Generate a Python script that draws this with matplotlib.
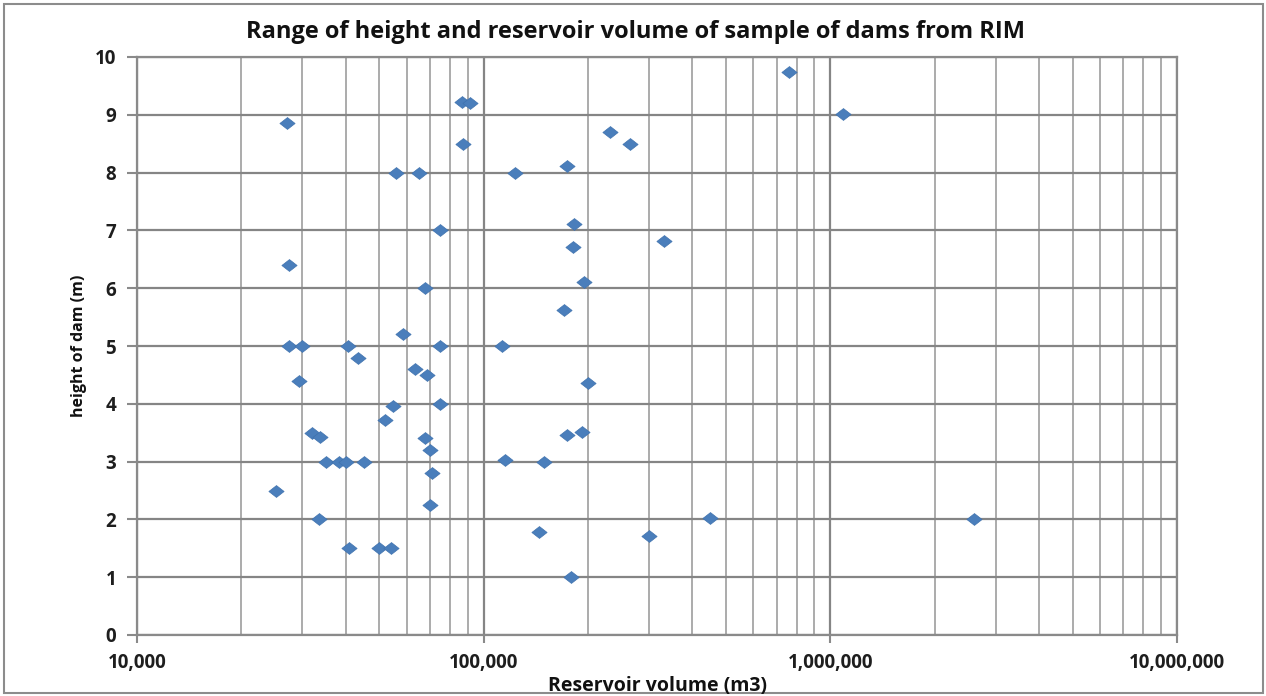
import numpy as np
import matplotlib.pyplot as plt
from matplotlib.path import Path
from matplotlib.patches import Rectangle
from matplotlib.ticker import FuncFormatter, LogLocator, NullFormatter

plt.rcParams['font.family'] = ['Open Sans', 'DejaVu Sans']

# reservoir volume (m3) and dam height (m)
volume = [27000, 27400, 27400, 30000, 40500, 43400, 29300, 32000, 33800,
          35200, 38200, 40200, 45100, 25100, 33400, 40800, 49800, 54200,
          51800, 54600, 58500, 63500, 68700, 75000, 75000, 67900, 70200,
          71000, 70200, 113000, 115500, 149000, 144100, 86600, 91500, 87200,
          55900, 65000, 123500, 75000, 67900,
          758000, 1088000, 231900, 265000, 174000, 181800, 181000, 332000,
          195200, 170200, 200000, 174000, 192200, 299000, 448700, 178600,
          2596000]
height = [8.85, 6.4, 5.0, 5.0, 5.0, 4.8, 4.4, 3.5, 3.43,
          3.0, 3.0, 3.0, 3.0, 2.5, 2.0, 1.5, 1.5, 1.5,
          3.72, 3.96, 5.2, 4.6, 4.5, 5.0, 4.0, 3.4, 3.2,
          2.8, 2.25, 5.0, 3.02, 3.0, 1.78, 9.23, 9.21, 8.5,
          8.0, 8.0, 8.0, 7.0, 6.0,
          9.74, 9.02, 8.7, 8.49, 8.12, 7.11, 6.71, 6.81,
          6.11, 5.62, 4.36, 3.46, 3.51, 1.71, 2.02, 1.0,
          2.0]

# slightly wide diamond
diamond = Path([(-1, 0), (0, 0.78), (1, 0), (0, -0.78), (-1, 0)],
               [Path.MOVETO, Path.LINETO, Path.LINETO, Path.LINETO, Path.CLOSEPOLY])

fig = plt.figure(figsize=(12.66, 6.96), dpi=100)
ax = fig.add_axes([137 / 1266, 1 - 635 / 696, 1040 / 1266, 578 / 696])

ax.scatter(volume, height, marker=diamond, s=120, color='#4a7ebb',
           edgecolors='#3f72ae', linewidths=0.5, zorder=3)

ax.set_xscale('log')
ax.set_xlim(1e4, 1e7)
ax.set_ylim(0, 10)
ax.set_yticks(np.arange(0, 11, 1))
ax.xaxis.set_major_locator(LogLocator(base=10))
ax.xaxis.set_minor_locator(LogLocator(base=10, subs=np.arange(2, 10)))
ax.xaxis.set_minor_formatter(NullFormatter())
ax.xaxis.set_major_formatter(FuncFormatter(lambda v, p: f'{int(round(v)):,}'))

ax.grid(True, which='major', axis='both', color='#858585', lw=1.6)
ax.grid(True, which='minor', axis='x', color='#ababab', lw=1.4)
ax.set_axisbelow(True)

for s in ax.spines.values():
    s.set_color('#8a8a8a')
    s.set_linewidth(1.6)

ax.tick_params(axis='x', which='major', length=6, width=1.5, color='#8a8a8a', pad=7)
ax.tick_params(axis='x', which='minor', length=0)
ax.tick_params(axis='y', length=7, width=1.5, color='#8a8a8a', pad=8)
for lab in ax.get_xticklabels() + ax.get_yticklabels():
    lab.set_fontsize(13.5)
    lab.set_fontweight('bold')
    lab.set_color('#1e1e1e')

fig.text(636 / 1266, 1 - 38 / 696, 'Range of height and reservoir volume of sample of dams from RIM',
         ha='center', va='baseline', fontsize=17, fontweight='bold', color='#111111')
fig.text(79 / 1266, 1 - 346 / 696, 'height of dam (m)', rotation=90,
         ha='center', va='center', fontsize=11.5, fontweight='bold', color='#111111')
fig.text(657 / 1266, 1 - 691 / 696, 'Reservoir volume (m3)',
         ha='center', va='baseline', fontsize=14, fontweight='bold', color='#111111')

fig.patches.append(Rectangle((4 / 1266, 3 / 696), 1259 / 1266, 689 / 696,
                             transform=fig.transFigure, fill=False,
                             edgecolor='#8c8c8c', lw=1.5))

fig.savefig('out.png', dpi=100)
